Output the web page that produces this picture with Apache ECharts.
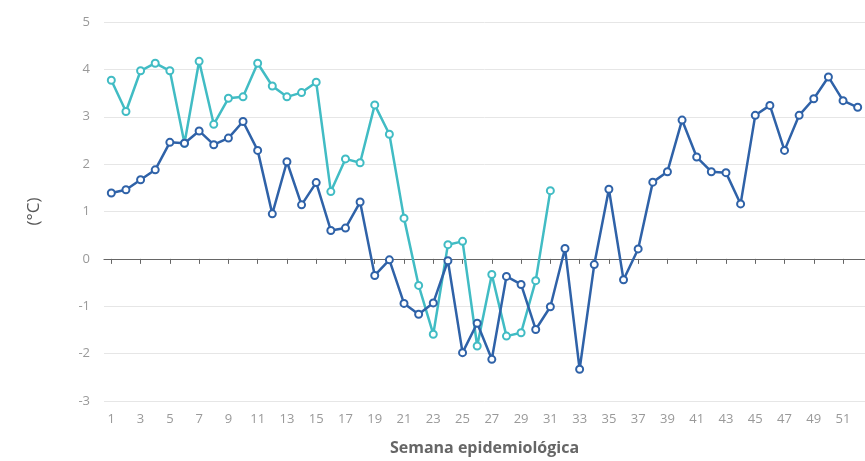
<!DOCTYPE html>
<html>
<head>
<meta charset="utf-8">
<script src="https://cdn.jsdelivr.net/npm/echarts@6/dist/echarts.min.js"></script>
<style>
html,body{margin:0;padding:0;background:#fff;}
#chart{width:865px;height:461px;}
</style>
</head>
<body>
<div id="chart"></div>
<script>
const weeks = [];
for (let i = 1; i <= 52; i++) weeks.push(String(i));

const seriesDark = [1.39, 1.46, 1.67, 1.88, 2.46, 2.44, 2.70, 2.41, 2.55, 2.90,
  2.29, 0.95, 2.05, 1.14, 1.61, 0.60, 0.65, 1.20, -0.35, -0.02,
  -0.94, -1.17, -0.93, -0.04, -1.98, -1.36, -2.12, -0.37, -0.54, -1.49,
  -1.01, 0.22, -2.33, -0.12, 1.47, -0.44, 0.21, 1.62, 1.84, 2.93,
  2.15, 1.84, 1.82, 1.16, 3.03, 3.24, 2.29, 3.03, 3.38, 3.84,
  3.34, 3.20];

const seriesTeal = [3.77, 3.11, 3.97, 4.13, 3.97, 2.44, 4.17, 2.84, 3.39, 3.42,
  4.13, 3.65, 3.42, 3.51, 3.73, 1.42, 2.11, 2.03, 3.25, 2.63,
  0.86, -0.56, -1.59, 0.30, 0.37, -1.84, -0.33, -1.63, -1.56, -0.46,
  1.44];

const yTicks = { min: -3, max: 5, interval: 1 };

const chart = echarts.init(document.getElementById('chart'), null, { renderer: 'canvas' });

const labelFont = { color: '#999999', fontSize: 13, fontFamily: 'Open Sans' };

chart.setOption({
  animation: false,
  backgroundColor: '#ffffff',
  grid: { left: 104, top: 22, width: 769, height: 380, containLabel: false },
  xAxis: [
    {
      type: 'category',
      data: weeks,
      boundaryGap: true,
      position: 'bottom',
      axisLine: { show: true, onZero: true, lineStyle: { color: '#666666', width: 1.2 } },
      axisTick: { show: true, alignWithLabel: true, interval: 1, length: 5, lineStyle: { color: '#666666' } },
      axisLabel: { show: false },
      splitLine: { show: false }
    },
    {
      type: 'category',
      data: weeks,
      boundaryGap: true,
      position: 'bottom',
      axisLine: { show: false, onZero: false },
      axisTick: { show: false },
      axisLabel: Object.assign({ show: true, interval: 1, margin: 12 }, labelFont),
      splitLine: { show: false },
      name: 'Semana epidemiológica',
      nameLocation: 'middle',
      nameGap: 39,
      nameTextStyle: { color: '#666666', fontSize: 16, fontWeight: 'bold', fontFamily: 'Open Sans' }
    }
  ],
  yAxis: {
    type: 'value',
    min: yTicks.min,
    max: yTicks.max,
    interval: yTicks.interval,
    axisLine: { show: false },
    axisTick: { show: false },
    axisLabel: Object.assign({ margin: 14 }, labelFont),
    splitLine: { show: true, lineStyle: { color: '#e6e6e6', width: 1 } },
    name: '(°C)',
    nameLocation: 'middle',
    nameGap: 61,
    nameTextStyle: { color: '#555555', fontSize: 17, fontFamily: 'Open Sans' }
  },
  series: [
    {
      type: 'line',
      xAxisIndex: 0,
      data: seriesDark,
      symbol: 'emptyCircle',
      symbolSize: 7,
      color: '#2f62a8',
      lineStyle: { width: 2.5, color: '#2f62a8' },
      itemStyle: { color: '#2f62a8', borderWidth: 2 },
      z: 3
    },
    {
      type: 'line',
      xAxisIndex: 0,
      data: seriesTeal,
      symbol: 'emptyCircle',
      symbolSize: 7,
      color: '#41bcc4',
      lineStyle: { width: 2.5, color: '#41bcc4' },
      itemStyle: { color: '#41bcc4', borderWidth: 2 },
      z: 2
    }
  ]
});
</script>
</body>
</html>
